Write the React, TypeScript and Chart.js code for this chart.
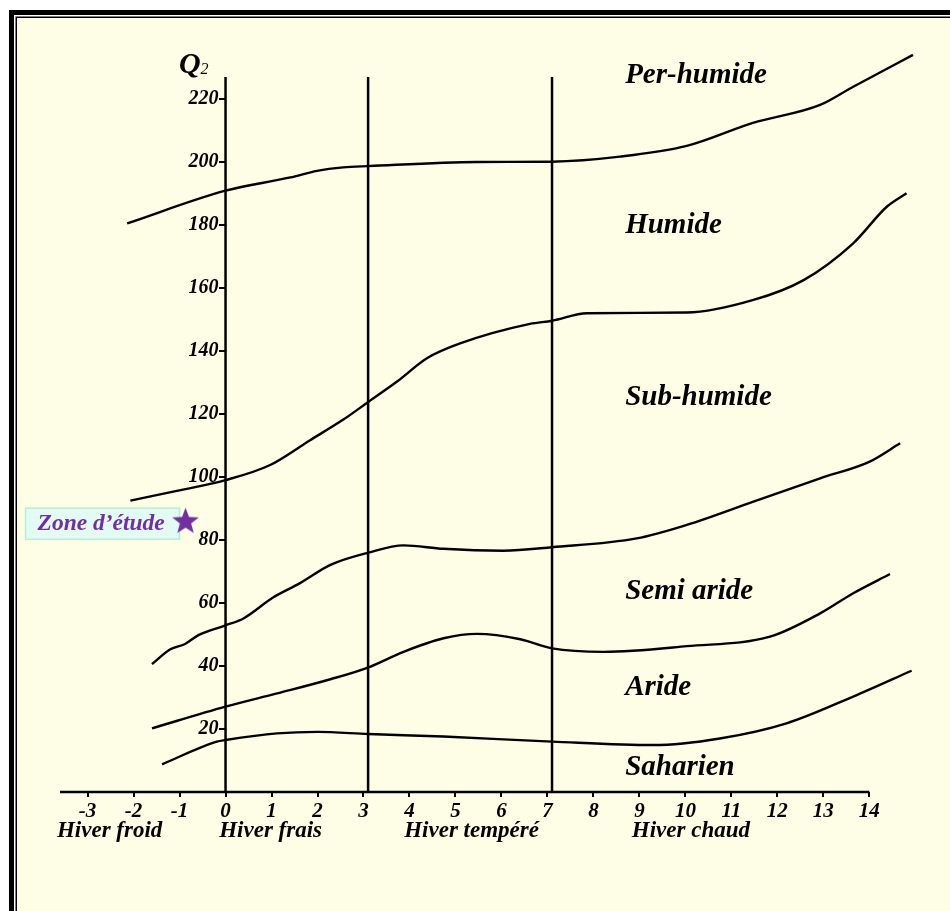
import React, { useEffect, useRef } from 'react';
import { Chart, registerables } from 'chart.js';

Chart.register(...registerables);

// ---- Data ----
const xTicks = [-3, -2, -1, 0, 1, 2, 3, 4, 5, 6, 7, 8, 9, 10, 11, 12, 13, 14];
const yTicks = [20, 40, 60, 80, 100, 120, 140, 160, 180, 200, 220];
const boundaryX = [0, 3.1, 7.1];
const boundaryTop = 227;
const xAxisStart = -3.6;
const xAxisEnd = 14;

const perHumideLimit: [number, number][] = [
  [-2.14, 180.5], [0, 190.9], [1.41, 195.1], [1.99, 197.2], [2.56, 198.3], [3.11, 198.7],
  [5.47, 200], [7.1, 200.1], [8.58, 201.7], [10.03, 205.1], [11.47, 212.4], [12.93, 218.1],
  [13.65, 223.9], [14.95, 234],
];
const humideLimit: [number, number][] = [
  [-2.07, 92.5], [-1.06, 95.6], [0, 99.0], [0.97, 103.8], [1.84, 111.7], [2.57, 118.3],
  [3.11, 123.9], [3.73, 130.3], [4.38, 137.7], [5.1, 142.4], [6.62, 148.6], [7.1, 149.6],
  [7.86, 152.0], [10.03, 152.2], [11.48, 156.2], [12.57, 162.5], [13.65, 174.2],
  [14.38, 185.8], [14.81, 190.1],
];
const subHumideLimit: [number, number][] = [
  [-1.6, 40.6], [-1.2, 45.3], [-0.88, 47.0], [-0.59, 49.8], [0, 52.9], [0.39, 55.1],
  [1.04, 61.8], [1.62, 66.3], [2.28, 72.1], [3.11, 76.0], [3.87, 78.3], [4.74, 77.2],
  [6.04, 76.6], [7.1, 77.7], [8.94, 80.5], [10.03, 84.8], [11.48, 92.2], [12.93, 99.6],
  [14.01, 104.9], [14.67, 110.7],
];
const semiArideLimit: [number, number][] = [
  [-1.6, 20.2], [0, 27.1], [1.12, 31.3], [2.28, 35.8], [3.11, 39.6], [3.87, 44.5],
  [4.74, 48.8], [5.47, 50.2], [6.41, 48.5], [7.1, 45.6], [8.22, 44.5], [10.03, 46.3],
  [11.84, 49.3], [12.93, 56.7], [13.65, 63.1], [14.45, 69.2],
];
const arideLimit: [number, number][] = [
  [-1.38, 8.8], [-0.19, 16.0], [0, 16.5], [1.12, 18.6], [1.99, 19.1], [3.11, 18.4],
  [4.74, 17.6], [7.1, 16.0], [9.3, 14.9], [10.75, 17.0], [12.2, 21.8], [13.65, 30.3],
  [14.92, 38.5],
];

const zoneEtude = { x: -0.87, y: 86.3 };
const zoneLabel = 'Zone d’étude';

const regionLabels = ['Per-humide', 'Humide', 'Sub-humide', 'Semi aride', 'Aride', 'Saharien'];
const regionLabelY = [227.3, 179.7, 125.1, 63.8, 33.3, 7.8];
const regionLabelX = 8.69;

const winterLabels = ['Hiver froid', 'Hiver frais', 'Hiver tempéré', 'Hiver chaud'];
const winterCenters = [-2.52, 0.98, 5.35, 10.12];

// ---- Styles ----
const CREAM = '#FEFEE6';
const PURPLE = '#7030A0';
const SERIF = '"Liberation Serif", "Times New Roman", serif';

function makeStar(size: number, color: string) {
  const c = document.createElement('canvas');
  c.width = size;
  c.height = size;
  const g = c.getContext('2d')!;
  const cx = size / 2, cy = size / 2 + 1.5;
  const R = size / 2 - 0.5, r = R * 0.42;
  g.beginPath();
  for (let i = 0; i < 10; i++) {
    const a = -Math.PI / 2 + (i * Math.PI) / 5;
    const rad = i % 2 === 0 ? R : r;
    const px = cx + rad * Math.cos(a), py = cy + rad * Math.sin(a);
    if (i === 0) g.moveTo(px, py); else g.lineTo(px, py);
  }
  g.closePath();
  g.fillStyle = color;
  g.fill();
  return c;
}

const toPts = (arr: [number, number][]) => arr.map(([x, y]) => ({ x, y }));

export default function App() {
  const ref = useRef<HTMLCanvasElement | null>(null);

  useEffect(() => {
    if (!ref.current) return;
    const star = makeStar(29, PURPLE);

    const framePlugin = {
      id: 'frame',
      beforeDraw(chart: any) {
        const { ctx, width, height } = chart;
        ctx.save();
        ctx.fillStyle = '#ffffff';
        ctx.fillRect(0, 0, width, height);
        ctx.fillStyle = '#000';
        ctx.fillRect(9, 10, width, height);
        ctx.fillStyle = '#ffffff';
        ctx.fillRect(14, 15, width, height);
        ctx.fillStyle = '#000';
        ctx.fillRect(15.5, 16.5, width, height);
        ctx.fillStyle = CREAM;
        ctx.fillRect(17, 18, width, height);
        ctx.restore();
      },
    };

    const textPlugin = {
      id: 'texts',
      beforeDatasetsDraw(chart: any) {
        const { ctx } = chart;
        const xs = chart.scales.x, ys = chart.scales.y;
        ctx.save();
        // Zone d'étude box
        const sx = xs.getPixelForValue(zoneEtude.x);
        const sy = ys.getPixelForValue(zoneEtude.y);
        ctx.fillStyle = '#E4FBF3';
        ctx.strokeStyle = '#B2F0D4';
        ctx.lineWidth = 1.5;
        ctx.fillRect(sx - 160, sy - 12, 154, 31);
        ctx.strokeRect(sx - 160, sy - 12, 154, 31);
        ctx.fillStyle = PURPLE;
        ctx.font = `bold italic 23.5px ${SERIF}`;
        ctx.textAlign = 'left';
        ctx.textBaseline = 'middle';
        ctx.fillText(zoneLabel, sx - 148, sy + 4);
        ctx.restore();
      },
      afterDraw(chart: any) {
        const { ctx } = chart;
        const xs = chart.scales.x, ys = chart.scales.y;
        ctx.save();
        ctx.fillStyle = '#000';
        // y-axis tick labels, left of the tick marks on the Q2 axis
        const axisX = xs.getPixelForValue(0);
        ctx.font = `bold italic 20px ${SERIF}`;
        ctx.textAlign = 'right';
        ctx.textBaseline = 'middle';
        yTicks.forEach((v) => {
          ctx.fillText(String(v), axisX - 7, ys.getPixelForValue(v));
        });
        // region labels
        ctx.font = `bold italic 29px ${SERIF}`;
        ctx.textAlign = 'left';
        ctx.textBaseline = 'middle';
        regionLabels.forEach((t, i) => {
          ctx.fillText(t, xs.getPixelForValue(regionLabelX), ys.getPixelForValue(regionLabelY[i]));
        });
        // winter labels
        ctx.font = `bold italic 23px ${SERIF}`;
        ctx.textAlign = 'center';
        const baseY = ys.getPixelForValue(0);
        winterLabels.forEach((t, i) => {
          ctx.fillText(t, xs.getPixelForValue(winterCenters[i]), baseY + 39);
        });
        // Q2
        const qy = ys.getPixelForValue(boundaryTop);
        ctx.textAlign = 'right';
        ctx.textBaseline = 'alphabetic';
        ctx.font = `bold italic 30px ${SERIF}`;
        ctx.fillText('Q', axisX - 25, qy - 4);
        ctx.textAlign = 'left';
        ctx.font = `italic 16px ${SERIF}`;
        ctx.fillText('2', axisX - 25, qy - 3);
        ctx.restore();
      },
    };

    const lineDs = (data: [number, number][]) => ({
      data: toPts(data),
      showLine: true,
      borderColor: '#000',
      borderWidth: 2.4,
      pointRadius: 0,
      cubicInterpolationMode: 'monotone' as const,
      clip: false as any,
    });

    const straight = (pts: { x: number; y: number }[]) => ({
      data: pts,
      showLine: true,
      borderColor: '#000',
      borderWidth: 2.5,
      pointRadius: 0,
      tension: 0,
      clip: false as any,
    });

    const chart = new Chart(ref.current, {
      type: 'scatter',
      data: {
        datasets: [
          straight([{ x: xAxisStart, y: 0 }, { x: xAxisEnd, y: 0 }]),
          ...boundaryX.map((bx) => straight([{ x: bx, y: 0 }, { x: bx, y: boundaryTop }])),
          lineDs(perHumideLimit),
          lineDs(humideLimit),
          lineDs(subHumideLimit),
          lineDs(semiArideLimit),
          lineDs(arideLimit),
          {
            data: [zoneEtude],
            pointStyle: star as any,
            pointRadius: 14,
            showLine: false,
            clip: false as any,
          },
        ] as any,
      },
      options: {
        animation: false,
        responsive: false,
        events: [],
        layout: { padding: { left: 60, right: 25.5, top: 36, bottom: 89 } },
        plugins: { legend: { display: false }, tooltip: { enabled: false } },
        scales: {
          x: {
            type: 'linear',
            min: xAxisStart,
            max: 15.2,
            afterBuildTicks: (s: any) => {
              s.ticks = xTicks.map((v) => ({ value: v }));
            },
            afterFit: (s: any) => {
              s.height = 30;
            },
            grid: { drawOnChartArea: false, drawTicks: true, tickLength: 5, color: '#000', lineWidth: 2 },
            border: { display: false },
            ticks: {
              color: '#000',
              padding: 2,
              maxRotation: 0,
              autoSkip: false,
              font: { family: SERIF, size: 21, weight: 'bold', style: 'italic' },
            },
          },
          y: {
            type: 'linear',
            min: 0,
            max: 240,
            position: { x: 0 } as any,
            afterBuildTicks: (s: any) => {
              s.ticks = yTicks.map((v) => ({ value: v }));
            },
            grid: { drawOnChartArea: false, drawTicks: true, tickLength: 7, color: '#000', lineWidth: 2 },
            border: { display: false },
            ticks: { display: false },
          },
        },
      } as any,
      plugins: [framePlugin, textPlugin],
    });
    return () => chart.destroy();
  }, []);

  return (
    <div style={{ position: 'fixed', left: 0, top: 0, width: 950, height: 911 }}>
      <canvas ref={ref} width={950} height={911} style={{ display: 'block', width: 950, height: 911 }} />
    </div>
  );
}
